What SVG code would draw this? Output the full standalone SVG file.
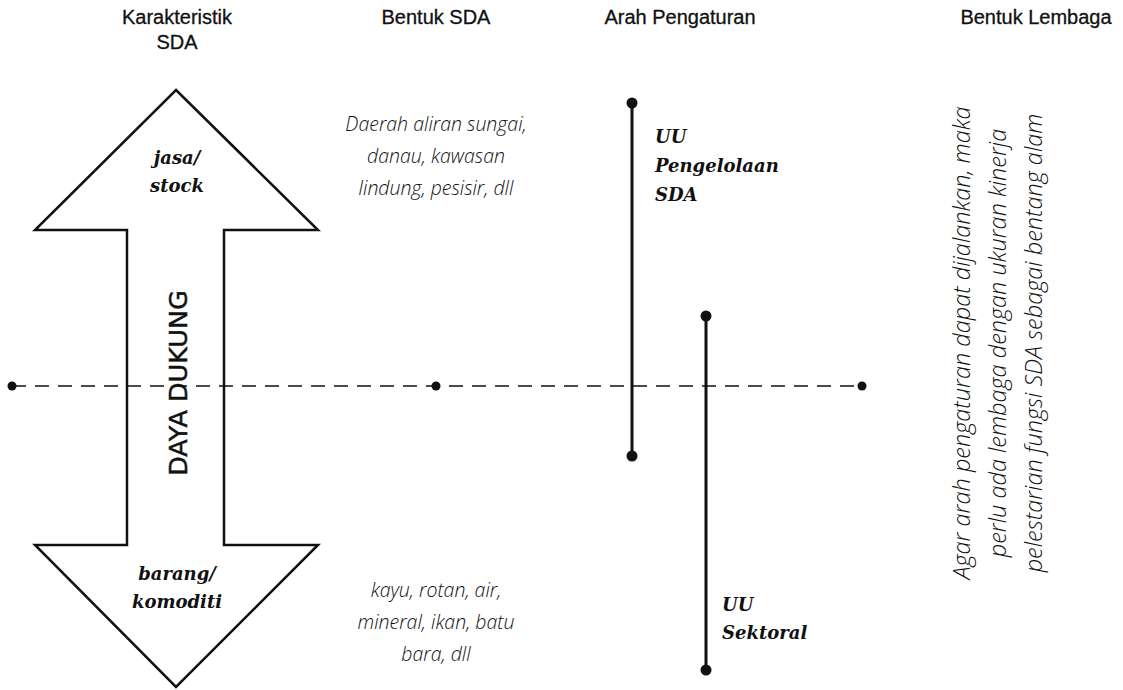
<svg xmlns="http://www.w3.org/2000/svg" width="1123" height="690" viewBox="0 0 1123 690">
  <style>
    .hdr { font-family: "Liberation Sans", Arial, sans-serif; font-size: 20px; fill: #111; stroke: #111; stroke-width: 0.3; text-anchor: middle; }
    .bi { font-family: "DejaVu Serif", serif; font-weight: bold; font-style: italic; font-size: 18px; fill: #111; }
    .desc { font-family: "Open Sans", "Noto Sans", sans-serif; font-style: italic; font-weight: 300; font-size: 19.5px; fill: #111; text-anchor: middle; }
    .note { font-family: "Open Sans", "Noto Sans", sans-serif; font-style: italic; font-weight: 300; font-size: 23.5px; fill: #111; text-anchor: middle; }
    .shape { fill: #fff; stroke: #111; stroke-width: 2.5; stroke-linejoin: miter; }
    .axis { stroke: #111; stroke-width: 1.6; stroke-dasharray: 14 9; fill: none; }
    .bar { stroke: #111; stroke-width: 3; fill: none; }
    .dot { fill: #111; }
    .big { font-family: "DejaVu Sans", sans-serif; font-size: 25.5px; fill: #111; stroke: #111; stroke-width: 0.5; text-anchor: middle; }
  </style>

  <!-- column headings -->
  <g id="headers">
    <text class="hdr" x="177" y="24">Karakteristik</text>
    <text class="hdr" x="177" y="49">SDA</text>
    <text class="hdr" x="436" y="24">Bentuk SDA</text>
    <text class="hdr" x="680" y="24">Arah Pengaturan</text>
    <text class="hdr" x="1036" y="24">Bentuk Lembaga</text>
  </g>

  <!-- double-headed arrow: carrying capacity -->
  <g id="daya-dukung">
    <polygon class="shape" points="176,90 318,230 224,230 224,545 318,545 176,687 35,545 127,545 127,230 35,230"/>
    <text class="bi" x="177" y="164" text-anchor="middle">jasa/</text>
    <text class="bi" x="177" y="192" text-anchor="middle">stock</text>
    <text class="bi" x="177" y="580" text-anchor="middle">barang/</text>
    <text class="bi" x="177" y="608" text-anchor="middle">komoditi</text>
    <text class="big" transform="translate(187,383) rotate(-90)">DAYA DUKUNG</text>
  </g>

  <!-- dashed reference axis and regulation bars -->
  <g id="connectors">
    <line class="axis" x1="12" y1="386" x2="862" y2="386"/>
    <circle class="dot" cx="12" cy="386" r="4.5"/>
    <circle class="dot" cx="436" cy="386" r="4.5"/>
    <circle class="dot" cx="862" cy="386" r="4.5"/>
    <line class="bar" x1="632" y1="103" x2="632" y2="456"/>
    <circle class="dot" cx="632" cy="103" r="5.5"/>
    <circle class="dot" cx="632" cy="456" r="5.5"/>
    <line class="bar" x1="706" y1="316" x2="706" y2="670"/>
    <circle class="dot" cx="706" cy="316" r="5.5"/>
    <circle class="dot" cx="706" cy="670" r="5.5"/>
  </g>

  <g id="bentuk-jasa">
    <text class="desc" x="436" y="131">Daerah aliran sungai,</text>
    <text class="desc" x="436" y="163">danau, kawasan</text>
    <text class="desc" x="436" y="195">lindung, pesisir, dll</text>
  </g>

  <g id="bentuk-barang">
    <text class="desc" x="436" y="597">kayu, rotan, air,</text>
    <text class="desc" x="436" y="629">mineral, ikan, batu</text>
    <text class="desc" x="436" y="661">bara, dll</text>
  </g>

  <g id="uu-pengelolaan">
    <text class="bi" x="655" y="143">UU</text>
    <text class="bi" x="655" y="172">Pengelolaan</text>
    <text class="bi" x="655" y="201">SDA</text>
  </g>

  <g id="uu-sektoral">
    <text class="bi" x="722" y="611">UU</text>
    <text class="bi" x="722" y="639">Sektoral</text>
  </g>

  <!-- institutional note, set vertically -->
  <g id="bentuk-lembaga">
    <text class="note" transform="translate(970,343) rotate(-90)">Agar arah pengaturan dapat dijalankan, maka</text>
    <text class="note" transform="translate(1006,343) rotate(-90)">perlu ada lembaga dengan ukuran kinerja</text>
    <text class="note" transform="translate(1042,343) rotate(-90)">pelestarian fungsi SDA sebagai bentang alam</text>
  </g>
</svg>
